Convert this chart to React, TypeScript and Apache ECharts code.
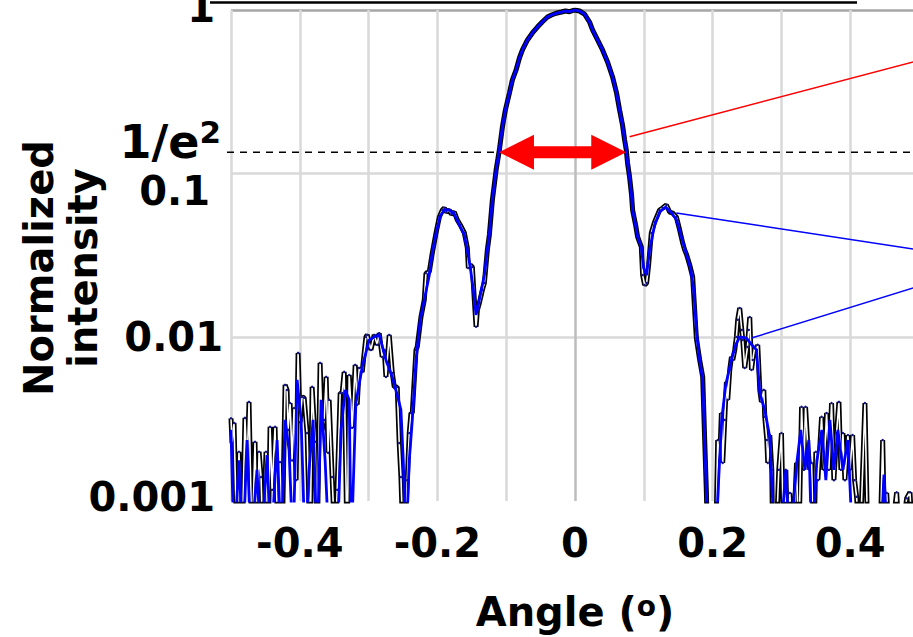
import React, { useEffect, useRef } from 'react';
import * as echarts from 'echarts';

const FONT = '"DejaVu Sans", Verdana, sans-serif';

// measured intensity (black trace), left of the main lobe: [angle (deg), normalized intensity]
const measuredLeft: [number, number][] = [
  [-0.5, 0.0032], [-0.4985, 0.00226], [-0.4956, 0.003], [-0.4913, 0.0005], [-0.4884, 0.002],
  [-0.484, 0.0005], [-0.4797, 0.00322], [-0.4767, 0.00155], [-0.4738, 0.00403], [-0.4694, 0.0005],
  [-0.4651, 0.0023], [-0.4622, 0.0005], [-0.4592, 0.002], [-0.4563, 0.0014], [-0.4534, 0.0005],
  [-0.4491, 0.002], [-0.4461, 0.0005], [-0.4432, 0.00284], [-0.4403, 0.00117], [-0.436, 0.00284],
  [-0.4316, 0.0005], [-0.4287, 0.00173], [-0.4258, 0.0005], [-0.4214, 0.00512], [-0.4185, 0.00477],
  [-0.417, 0.00272], [-0.4141, 0.00397], [-0.4112, 0.00177], [-0.4083, 0.0037], [-0.4054, 0.00134],
  [-0.4025, 0.00803], [-0.3996, 0.00303], [-0.3967, 0.00432], [-0.3937, 0.00427], [-0.3894, 0.0026],
  [-0.385, 0.0005], [-0.3821, 0.00498], [-0.3777, 0.0023], [-0.3748, 0.0005], [-0.3705, 0.00698],
  [-0.3676, 0.00272], [-0.3646, 0.00313], [-0.3617, 0.00573], [-0.3588, 0.00197], [-0.3574, 0.00415],
  [-0.353, 0.0014], [-0.3486, 0.0005], [-0.3457, 0.00117], [-0.3413, 0.00457], [-0.3384, 0.00457],
  [-0.3355, 0.00615], [-0.3312, 0.0005], [-0.3282, 0.00589], [-0.3239, 0.0028], [-0.3195, 0.00678],
  [-0.3166, 0.00388], [-0.3137, 0.0065], [-0.3093, 0.00615], [-0.3039, 0.01005], [-0.302, 0.01035],
  [-0.2966, 0.00838], [-0.2918, 0.01035], [-0.2875, 0.009], [-0.2846, 0.0106], [-0.2802, 0.00759],
  [-0.2773, 0.00838], [-0.2748, 0.00573], [-0.27, 0.01035], [-0.2656, 0.00606], [-0.2627, 0.00498],
  [-0.2584, 0.00498], [-0.2555, 0.00226], [-0.253, 0.0014], [-0.2496, 0.0005], [-0.2482, 0.0005],
  [-0.2438, 0.00134], [-0.2409, 0.0026], [-0.2384, 0.00345], [-0.2365, 0.00345], [-0.2311, 0.00838],
  [-0.2293, 0.00874], [-0.2239, 0.0133], [-0.2191, 0.0169], [-0.2166, 0.0247], [-0.2118, 0.0251],
  [-0.2074, 0.0328], [-0.202, 0.0434], [-0.1972, 0.0544], [-0.1928, 0.06], [-0.1899, 0.0617],
  [-0.187, 0.0583], [-0.1827, 0.06], [-0.1798, 0.0566], [-0.1754, 0.0583], [-0.171, 0.0521],
  [-0.1667, 0.0486], [-0.1608, 0.0434], [-0.1565, 0.0352], [-0.155, 0.0265], [-0.1521, 0.0277],
  [-0.1492, 0.0269], [-0.1463, 0.0169], [-0.1438, 0.0116], [-0.1419, 0.0147], [-0.139, 0.0162],
  [-0.1346, 0.0195], [-0.1317, 0.0215],
];

// main lobe (shared by both traces)
const mainLobe: [number, number][] = [
  [-0.1274, 0.0342], [-0.1245, 0.0422], [-0.1201, 0.069], [-0.1147, 0.105], [-0.1099, 0.14],
  [-0.1055, 0.193], [-0.1012, 0.245], [-0.0953, 0.311], [-0.091, 0.374], [-0.0856, 0.43],
  [-0.0808, 0.509], [-0.0764, 0.57], [-0.0691, 0.656], [-0.0619, 0.724], [-0.0546, 0.787],
  [-0.0473, 0.848], [-0.04, 0.906], [-0.0342, 0.932], [-0.0274, 0.955], [-0.0197, 0.972],
  [-0.0138, 0.986], [-0.008, 0.976], [-0.0007, 1.0], [0.0066, 0.986], [0.0138, 0.945],
  [0.0211, 0.845], [0.0255, 0.755], [0.0328, 0.656], [0.04, 0.57], [0.0473, 0.481],
  [0.0546, 0.39], [0.0604, 0.311], [0.0648, 0.245], [0.0691, 0.198], [0.0721, 0.161],
  [0.0745, 0.14], [0.0764, 0.116], [0.0793, 0.0955], [0.0822, 0.0741], [0.0837, 0.06],
  [0.0881, 0.0486], [0.091, 0.0411], [0.0964, 0.0357],
];

// measured intensity, right of the main lobe
const measuredRight: [number, number][] = [
  [0.0983, 0.024], [0.1012, 0.0209], [0.1041, 0.0215], [0.107, 0.0277], [0.1109, 0.0434],
  [0.1157, 0.0507], [0.123, 0.06], [0.1274, 0.0617], [0.1328, 0.0644], [0.1376, 0.0583],
  [0.1419, 0.0575], [0.1473, 0.0544], [0.1521, 0.0453], [0.1565, 0.0377], [0.1594, 0.0342],
  [0.1623, 0.0319], [0.1667, 0.0277], [0.171, 0.0234], [0.1764, 0.0099], [0.1812, 0.00728],
  [0.1856, 0.00573], [0.1885, 0.00236], [0.191, 0.00112], [0.1929, 0.0005], [0.2045, 0.0005],
  [0.2074, 0.00236], [0.2103, 0.00177], [0.2128, 0.00345], [0.2147, 0.00171], [0.2176, 0.00313],
  [0.2201, 0.00535], [0.222, 0.00415], [0.2249, 0.00632], [0.2274, 0.00759], [0.2293, 0.00728],
  [0.2322, 0.00838], [0.2346, 0.01005], [0.2365, 0.0128], [0.2394, 0.0151], [0.2424, 0.0111],
  [0.2438, 0.00964], [0.2467, 0.0065], [0.2507, 0.00874], [0.2525, 0.0111], [0.254, 0.0133],
  [0.2565, 0.00632], [0.2584, 0.00728], [0.2613, 0.00874], [0.2642, 0.00838], [0.2656, 0.009],
  [0.2686, 0.00477], [0.271, 0.00403], [0.2744, 0.00477], [0.2758, 0.00327], [0.2788, 0.00236],
  [0.2802, 0.00171], [0.2831, 0.00253], [0.286, 0.00155], [0.2875, 0.0005], [0.2918, 0.0005],
  [0.2962, 0.00155], [0.3001, 0.0026], [0.3035, 0.0005], [0.3064, 0.00155], [0.3093, 0.0005],
  [0.3122, 0.00112], [0.3166, 0.0005], [0.322, 0.00171], [0.3253, 0.0005], [0.3293, 0.00376],
  [0.3326, 0.00155], [0.3351, 0.00376], [0.3384, 0.00214], [0.3413, 0.00155], [0.3438, 0.00171],
  [0.3472, 0.0005], [0.3501, 0.002], [0.353, 0.00134], [0.3584, 0.00327], [0.3617, 0.00155],
  [0.3657, 0.00345], [0.369, 0.00155], [0.3729, 0.00397], [0.3763, 0.00134], [0.3802, 0.0026],
  [0.3836, 0.00403], [0.3865, 0.00155], [0.3894, 0.0026], [0.3923, 0.00134], [0.3967, 0.00253],
  [0.3996, 0.00155], [0.4035, 0.00253], [0.4064, 0.00134], [0.4093, 0.00106], [0.4141, 0.0005],
  [0.4214, 0.00397], [0.4258, 0.0005], [0.4432, 0.0005], [0.4472, 0.00236], [0.4505, 0.0005],
  [0.453, 0.00112], [0.4578, 0.0005], [0.4675, 0.00113], [0.4723, 0.0005], [0.4821, 0.00104],
  [0.4869, 0.00113], [0.4913, 0.0005], [0.5, 0.0005],
];

// fitted / simulated intensity (blue trace), left and right of the main lobe
const fitLeft: [number, number][] = [
  [-0.5, 0.00272], [-0.4956, 0.0005], [-0.4884, 0.00177], [-0.4825, 0.0005], [-0.4767, 0.00236],
  [-0.4709, 0.0005], [-0.4622, 0.00155], [-0.4563, 0.0005], [-0.4476, 0.00191], [-0.4418, 0.0005],
  [-0.433, 0.00236], [-0.4272, 0.0005], [-0.4214, 0.00313], [-0.4156, 0.00205], [-0.4098, 0.0005],
  [-0.4039, 0.0055], [-0.3981, 0.00313], [-0.3923, 0.0005], [-0.3865, 0.00155], [-0.3807, 0.00313],
  [-0.3748, 0.0005], [-0.369, 0.00415], [-0.3632, 0.00177], [-0.3574, 0.0005], [-0.3457, 0.0005],
  [-0.3399, 0.00272], [-0.3341, 0.00477], [-0.3282, 0.00415], [-0.3253, 0.0005], [-0.3185, 0.00397],
  [-0.3093, 0.00659], [-0.2991, 0.00964], [-0.2918, 0.01005], [-0.2846, 0.01035], [-0.2748, 0.00728],
  [-0.2656, 0.00573], [-0.2584, 0.00445], [-0.253, 0.0036], [-0.2496, 0.00177], [-0.2457, 0.0005],
  [-0.2409, 0.00177], [-0.2365, 0.00313], [-0.2311, 0.00728], [-0.2249, 0.0128], [-0.2191, 0.0169],
  [-0.2118, 0.024], [-0.2074, 0.0328], [-0.2016, 0.044], [-0.1958, 0.0552], [-0.1899, 0.06],
  [-0.1827, 0.06], [-0.1754, 0.0566], [-0.1681, 0.0486], [-0.1608, 0.0422], [-0.1565, 0.0342],
  [-0.1521, 0.0265], [-0.1477, 0.0195], [-0.1438, 0.0137], [-0.1405, 0.0158], [-0.1361, 0.0195],
  [-0.1317, 0.024],
];

const fitRight: [number, number][] = [
  [0.0997, 0.0265], [0.1041, 0.024], [0.1084, 0.0342], [0.1157, 0.0486], [0.123, 0.0583],
  [0.1317, 0.0626], [0.1405, 0.0575], [0.1477, 0.0521], [0.155, 0.0405], [0.1623, 0.0319],
  [0.1681, 0.0265], [0.1725, 0.0195], [0.1769, 0.01035], [0.1812, 0.00728], [0.1856, 0.0055],
  [0.1885, 0.00236], [0.191, 0.00112], [0.1943, 0.0005], [0.2045, 0.0005], [0.2074, 0.00104],
  [0.2132, 0.00313], [0.2191, 0.00512], [0.2274, 0.00728], [0.2336, 0.009], [0.2394, 0.01005],
  [0.2492, 0.0099], [0.2569, 0.009], [0.2638, 0.00838], [0.2686, 0.00457], [0.2758, 0.0036],
  [0.2831, 0.00246], [0.2904, 0.0005], [0.2977, 0.0005], [0.3064, 0.00155], [0.3122, 0.0005],
  [0.3224, 0.00171], [0.3282, 0.00272], [0.3341, 0.00155], [0.3399, 0.00236], [0.3443, 0.0005],
  [0.3515, 0.00177], [0.3588, 0.00272], [0.3646, 0.00134], [0.3705, 0.00313], [0.3763, 0.00155],
  [0.3821, 0.00272], [0.3894, 0.00155], [0.3967, 0.00236], [0.4039, 0.0005], [0.444, 0.0005],
  [0.4491, 0.00145], [0.4549, 0.0005], [0.5, 0.0005],
];

// tick labels
const xTickLabels: Record<string, string> = { '-4': '-0.4', '-2': '-0.2', '0': '0', '2': '0.2', '4': '0.4' };
const yTickLabels: Record<string, string> = { '0': '1', '-1': '0.1', '-2': '0.01', '-3': '0.001' };

// annotations
const ONE_OVER_E2 = 0.1353;
const fwhmLeft = -0.1105;
const fwhmRight = 0.0745;
const redLeaderStart: [number, number] = [0.0793, 0.168];
const blueLeader1Start: [number, number] = [0.1473, 0.0575];
const blueLeader2Start: [number, number] = [0.2565, 0.0099];

export default function App() {
  const ref = useRef<HTMLDivElement>(null);

  useEffect(() => {
    if (!ref.current) return;
    const chart = echarts.init(ref.current, null, { renderer: 'svg' });
    const measured = [...measuredLeft, ...mainLobe, ...measuredRight];
    const fit = [...fitLeft, ...mainLobe, ...fitRight];

    const labelStyle = { fontSize: 40, fontWeight: 'bold', fontFamily: FONT, color: '#000' };

    chart.setOption({
      animation: false,
      backgroundColor: '#ffffff',
      grid: { left: 231, top: 10, width: 688, height: 491, containLabel: false, outerBoundsMode: 'none' },
      xAxis: {
        type: 'value',
        min: -0.5,
        max: 0.5,
        interval: 0.1,
        axisLine: { show: false },
        axisTick: { show: false },
        splitLine: {
          show: true,
          lineStyle: {
            width: 2.5,
            color: ['#d9d9d9', '#d9d9d9', '#d9d9d9', '#d9d9d9', '#d9d9d9', '#bdbdbd', '#d9d9d9', '#d9d9d9', '#d9d9d9', '#d9d9d9', '#d9d9d9'],
          },
        },
        axisLabel: {
          ...labelStyle,
          margin: 22,
          formatter: (v: number) => xTickLabels[String(Math.round(v * 10))] ?? '',
        },
        name: '{a|Angle (}{s|o}{a|)}',
        nameLocation: 'middle',
        nameGap: 91,
        nameTextStyle: {
          fontSize: 40,
          fontWeight: 'bold',
          fontFamily: FONT,
          color: '#000',
          rich: {
            a: { fontSize: 40, fontWeight: 'bold', fontFamily: FONT, color: '#000' },
            s: { fontSize: 28, fontWeight: 'bold', fontFamily: FONT, color: '#000', padding: [0, 0, 12, 0] },
          },
        },
      },
      yAxis: {
        type: 'log',
        logBase: 10,
        min: 0.001,
        max: 1,
        axisLine: { show: false },
        axisTick: { show: false },
        splitLine: {
          show: true,
          lineStyle: { width: 2.5, color: ['rgba(0,0,0,0)', '#d9d9d9', '#d9d9d9', '#a6a6a6'] },
        },
        axisLabel: {
          ...labelStyle,
          margin: 8,
          formatter: (v: number) => {
            const k = String(Math.round(Math.log10(v)));
            const t = yTickLabels[k] ?? '';
            return `{l${k.replace('-', 'm')}|${t}}`;
          },
          rich: {
            l0: { ...labelStyle, padding: [0, 8, 5, 0] },
            lm1: { ...labelStyle, padding: [34, 13, 0, 0] },
            lm2: { ...labelStyle, padding: [0, 0, 0, 0] },
            lm3: { ...labelStyle, padding: [0, 8, 8, 0] },
          },
        },
        name: 'Normalized\nintensity',
        nameLocation: 'middle',
        nameRotate: 90,
        nameGap: 126,
        nameMoveOverlap: false,
        nameTextStyle: {
          fontSize: 40,
          fontWeight: 'bold',
          fontFamily: FONT,
          color: '#000',
          lineHeight: 44,
          padding: [0, 25, 0, 0],
        },
      },
      series: [
        {
          type: 'line',
          data: measured,
          showSymbol: false,
          silent: true,
          lineStyle: { color: '#000', width: 5 },
          z: 2,
        },
        {
          type: 'line',
          data: measured,
          showSymbol: true,
          symbol: 'circle',
          symbolSize: 2.5,
          itemStyle: { color: '#14148c' },
          silent: true,
          lineStyle: { color: '#ffffff', width: 1.6 },
          z: 3,
        },
        {
          type: 'line',
          data: fit,
          showSymbol: false,
          silent: true,
          lineStyle: { color: '#0000ff', width: 2.8 },
          z: 4,
        },
      ],
    });

    const px = (p: [number, number]) => chart.convertToPixel({ gridIndex: 0 }, p) as number[];
    const yE = px([0, ONE_OVER_E2])[1];
    const xl = px([fwhmLeft, ONE_OVER_E2])[0];
    const xr = px([fwhmRight, ONE_OVER_E2])[0];
    const head = 35, half = 17.5, shaft = 6;
    const r0 = px(redLeaderStart);
    const b1 = px(blueLeader1Start);
    const b2 = px(blueLeader2Start);
    const extend = (s: number[], ex: number, ey: number) => {
      const slope = (ey - s[1]) / (ex - s[0]);
      return { x1: s[0], y1: s[1], x2: 930, y2: s[1] + slope * (930 - s[0]) };
    };

    chart.setOption({
      graphic: [
        {
          type: 'line', z: 1, silent: true,
          shape: { x1: 227, y1: yE, x2: 930, y2: yE },
          style: { stroke: '#000', lineWidth: 1.5, lineDash: [7, 6] },
        },
        {
          type: 'text', z: 5, silent: true, x: 221, y: yE - 10,
          style: {
            text: '{a|1/e}{s|2}',
            fill: '#000',
            align: 'right',
            verticalAlign: 'middle',
            rich: {
              a: { fontSize: 46, fontWeight: 'bold', fontFamily: FONT, fill: '#000' },
              s: { fontSize: 31, fontWeight: 'bold', fontFamily: FONT, fill: '#000', padding: [0, 0, 21, 0] },
            },
          },
        },
        {
          type: 'polygon', z: 10, silent: true,
          shape: {
            points: [
              [xl, yE], [xl + head, yE - half], [xl + head, yE - shaft], [xr - head, yE - shaft],
              [xr - head, yE - half], [xr, yE], [xr - head, yE + half], [xr - head, yE + shaft],
              [xl + head, yE + shaft], [xl + head, yE + half],
            ],
          },
          style: { fill: '#ff0000' },
        },
        {
          type: 'line', z: 10, silent: true,
          shape: extend(r0, 913, 62),
          style: { stroke: '#ff0000', lineWidth: 1.5 },
        },
        {
          type: 'line', z: 10, silent: true,
          shape: extend(b1, 913, 249),
          style: { stroke: '#0000ff', lineWidth: 1.5 },
        },
        {
          type: 'line', z: 10, silent: true,
          shape: extend(b2, 913, 288),
          style: { stroke: '#0000ff', lineWidth: 1.5 },
        },
        {
          type: 'line', z: 10, silent: true,
          shape: { x1: 210, y1: 2.5, x2: 857, y2: 2.5 },
          style: { stroke: '#000', lineWidth: 2.5 },
        },
      ],
    });

    return () => chart.dispose();
  }, []);

  return (
    <div
      ref={ref}
      style={{ position: 'fixed', left: 0, top: 0, width: 913, height: 637, background: '#fff' }}
    />
  );
}
